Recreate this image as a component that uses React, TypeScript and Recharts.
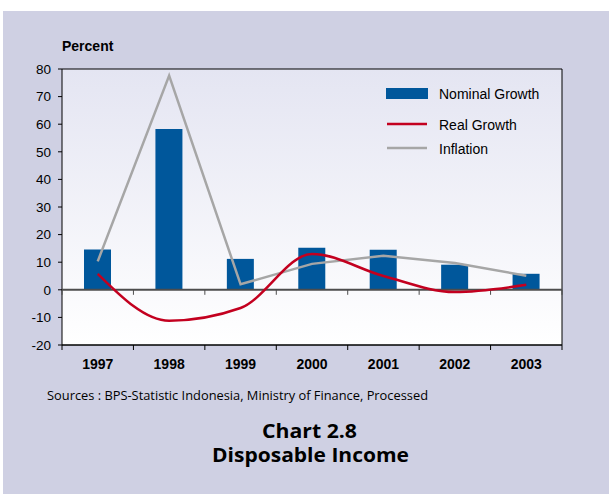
import { Bar, ComposedChart, Line, ReferenceArea, ReferenceLine, XAxis, YAxis } from "recharts"

const years = ["1997", "1998", "1999", "2000", "2001", "2002", "2003"]
const nominalGrowth = [14.6, 58.3, 11.2, 15.2, 14.5, 9.1, 5.8]
const realGrowth = [5.8, -11.2, -6.6, 13.0, 5.0, -0.8, 1.8]
const inflation = [10.3, 77.6, 2.0, 9.4, 12.3, 9.7, 5.1]
const yTicks = [-20, -10, 0, 10, 20, 30, 40, 50, 60, 70, 80]

const data = years.map((year, i) => ({
  year,
  nominal: nominalGrowth[i],
  real: realGrowth[i],
  inflation: inflation[i],
}))

const BAR_COLOR = "#00579b"
const REAL_COLOR = "#c3001f"
const INFLATION_COLOR = "#a6a6a6"

const legendItems = [
  { label: "Nominal Growth", kind: "bar", color: BAR_COLOR, y: 99 },
  { label: "Real Growth", kind: "line", color: REAL_COLOR, y: 130 },
  { label: "Inflation", kind: "line", color: INFLATION_COLOR, y: 154 },
]

// horizontal line with small downward ticks at every category boundary
function tickedLine(len: number) {
  return (props: any) => {
    const { x1, y1, x2, stroke, strokeWidth } = props
    const step = (x2 - x1) / years.length
    const marks = [...years.map((_, i) => x1 + step * i), x2]
    return (
      <g>
        <line x1={x1} y1={y1} x2={x2} y2={y1} stroke={stroke} strokeWidth={strokeWidth} />
        {marks.map((x) => (
          <line key={x} x1={x} y1={y1} x2={x} y2={y1 + len} stroke={stroke} strokeWidth={1} />
        ))}
      </g>
    )
  }
}

export default function App() {
  return (
    <div style={{ position: "fixed", left: 0, top: 0, width: 609, height: 494, background: "#fff" }}>
      <div style={{ position: "absolute", left: 3, top: 11, right: 0, bottom: 0, background: "#cfd0e3" }} />
      <div style={{ position: "absolute", left: 0, top: 0 }}>
        <ComposedChart width={609} height={494} data={data} margin={{ top: 69, right: 47, bottom: 119, left: 0 }}>
          <defs>
            <linearGradient id="plotBg" x1="0" y1="0" x2="0" y2="1">
              <stop offset="0%" stopColor="#e4e5f2" />
              <stop offset="100%" stopColor="#ffffff" />
            </linearGradient>
          </defs>
          <ReferenceArea y1={-20} y2={80} fill="url(#plotBg)" fillOpacity={1} stroke="#000" strokeWidth={1} />
          <XAxis
            dataKey="year"
            height={30}
            axisLine={false}
            tickLine={false}
            tickSize={0}
            tickMargin={14}
            tick={{ fontSize: 14, fontWeight: 700, fill: "#000", fontFamily: "Liberation Sans, Arial" }}
          />
          <YAxis
            width={62}
            domain={[-20, 80]}
            ticks={yTicks}
            interval={0}
            axisLine={false}
            tickLine={{ stroke: "#000" }}
            tickSize={4}
            tickMargin={7}
            tick={{ fontSize: 13.5, fill: "#000", fontFamily: "Liberation Sans, Arial" }}
          />
          <Bar dataKey="nominal" fill={BAR_COLOR} barSize={27} isAnimationActive={false} />
          <ReferenceLine y={0} stroke="#4d4d4d" strokeWidth={2} shape={tickedLine(5)} />
          <ReferenceLine y={-20} stroke="#000" strokeWidth={1} shape={tickedLine(5)} />
          <Line
            dataKey="inflation"
            type="linear"
            stroke={INFLATION_COLOR}
            strokeWidth={2.5}
            dot={false}
            isAnimationActive={false}
          />
          <Line
            dataKey="real"
            type="monotone"
            stroke={REAL_COLOR}
            strokeWidth={2.5}
            dot={false}
            isAnimationActive={false}
          />
        </ComposedChart>
      </div>
      <svg
        width={609}
        height={494}
        style={{ position: "absolute", left: 0, top: 0, pointerEvents: "none" }}
        fontFamily="Liberation Sans, Arial"
      >
        <text x={62} y={50.5} fontSize={14} fontWeight={700} fill="#000">
          Percent
        </text>
        {legendItems.map((item) => (
          <g key={item.label}>
            {item.kind === "bar" ? (
              <rect x={386} y={item.y - 11} width={42} height={11} fill={item.color} />
            ) : (
              <line x1={387} x2={427} y1={item.y - 6} y2={item.y - 6} stroke={item.color} strokeWidth={2.5} />
            )}
            <text x={439} y={item.y} fontSize={14} fill="#000">
              {item.label}
            </text>
          </g>
        ))}
        <text
          x={47}
          y={399.5}
          fontSize={13}
          fontFamily="Open Sans"
          fill="#000"
          textLength={381}
          lengthAdjust="spacingAndGlyphs"
        >
          Sources : BPS-Statistic Indonesia, Ministry of Finance, Processed
        </text>
        <text
          x={262}
          y={437.5}
          fontSize={20}
          fontWeight={700}
          fontFamily="Open Sans"
          fill="#000"
          textLength={95}
          lengthAdjust="spacingAndGlyphs"
        >
          Chart 2.8
        </text>
        <text
          x={212}
          y={462}
          fontSize={20}
          fontWeight={700}
          fontFamily="Open Sans"
          fill="#000"
          textLength={197}
          lengthAdjust="spacingAndGlyphs"
        >
          Disposable Income
        </text>
      </svg>
    </div>
  )
}
